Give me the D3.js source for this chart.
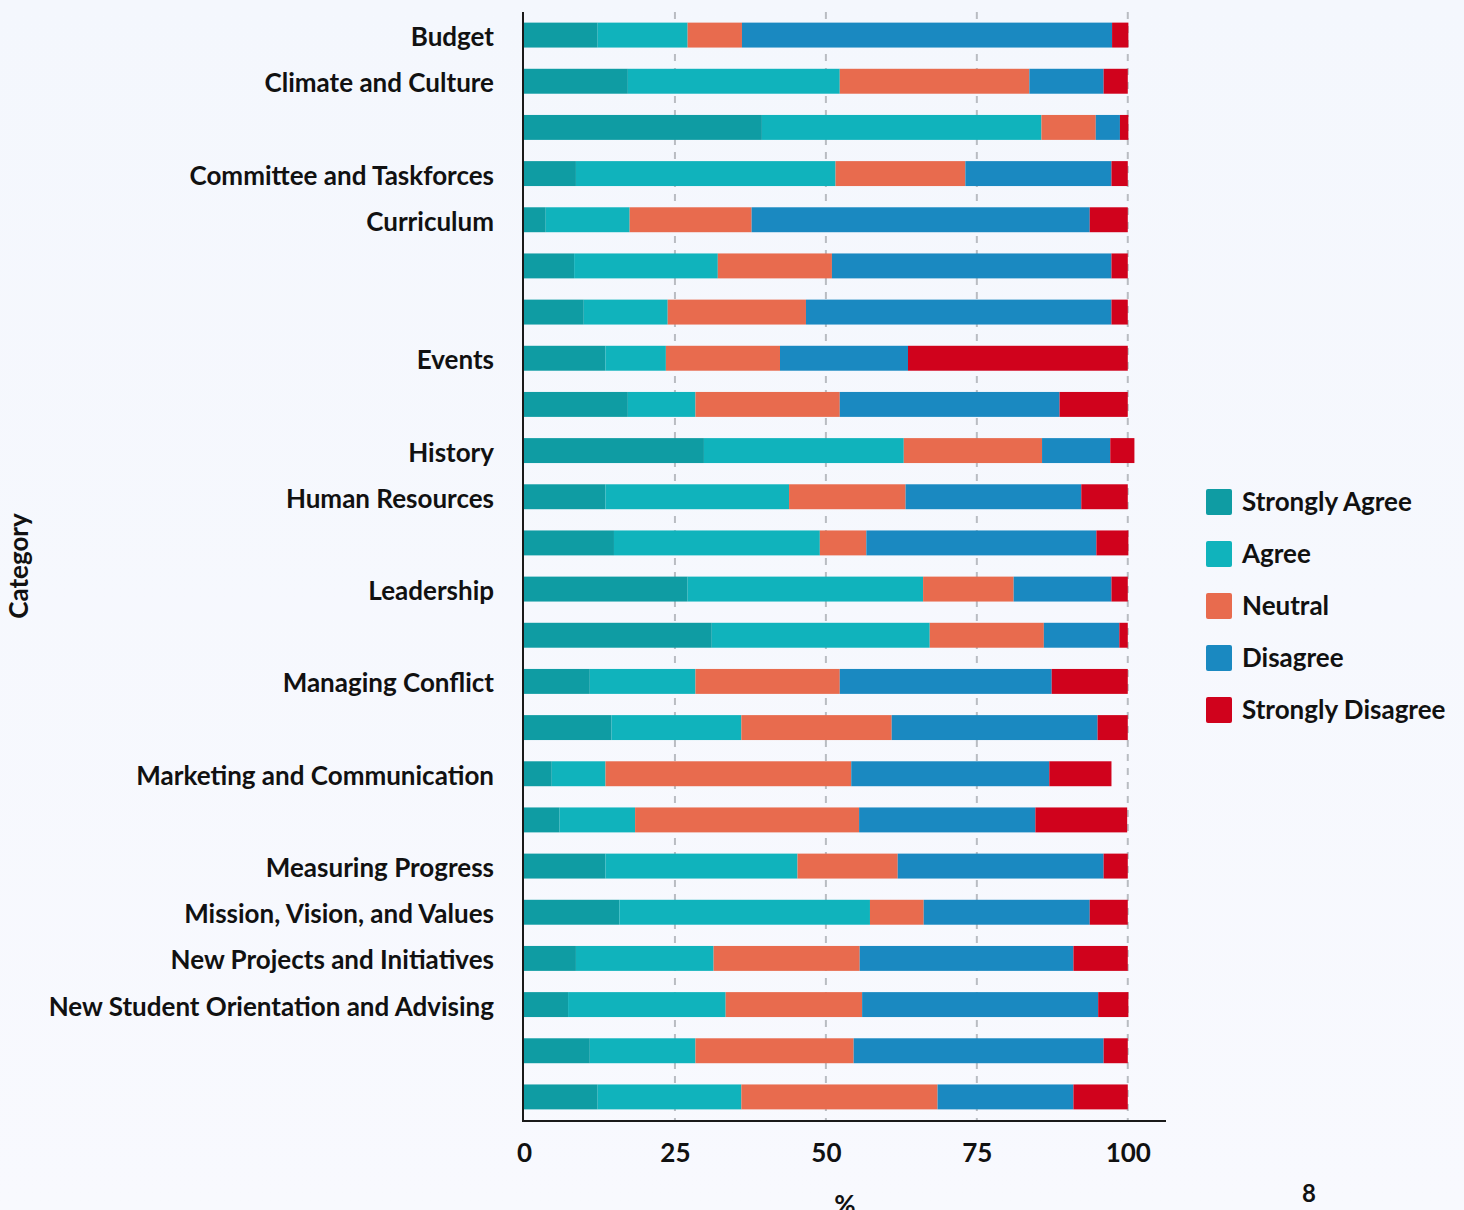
<!DOCTYPE html>
<html>
<head>
<meta charset="utf-8">
<script src="https://cdn.jsdelivr.net/npm/d3@7"></script>
<style>
  html, body { margin: 0; padding: 0; background: #f6f8fe; }
  svg { display: block; }
  text { font-family: Lato, "Open Sans", sans-serif; font-weight: 700; fill: #111; }
</style>
</head>
<body>
<svg id="chart" width="1464" height="1210"></svg>
<script>
// ---- data ----
const categories = [
  "Budget", "Climate and Culture", "", "Committee and Taskforces", "Curriculum", "", "",
  "Events", "", "History", "Human Resources", "", "Leadership", "", "Managing Conflict", "",
  "Marketing and Communication", "", "Measuring Progress", "Mission, Vision, and Values",
  "New Projects and Initiatives", "New Student Orientation and Advising", "", ""
];
const seriesNames = ["Strongly Agree", "Agree", "Neutral", "Disagree", "Strongly Disagree"];
const stronglyAgree    = [12.2, 17.2, 39.4,  8.6,  3.6,  8.3,  9.9, 13.5, 17.2, 29.8, 13.5, 14.9, 27.1, 31.1, 10.9, 14.5,  4.6,  5.9, 13.5, 15.8,  8.6,  7.3, 10.9, 12.2];
const agree            = [14.9, 35.1, 46.3, 43.0, 13.9, 23.8, 13.9, 10.0, 11.2, 33.1, 30.4, 34.1, 39.0, 36.1, 17.5, 21.5,  8.9, 12.5, 31.8, 41.5, 22.8, 26.1, 17.5, 23.8];
const neutral          = [ 9.0, 31.4,  9.0, 21.5, 20.2, 18.9, 22.9, 18.9, 23.9, 22.9, 19.3,  7.7, 15.0, 18.9, 23.9, 24.9, 40.7, 37.1, 16.6,  8.9, 24.2, 22.6, 26.2, 32.5];
const disagree         = [61.3, 12.3,  4.0, 24.2, 56.0, 46.3, 50.6, 21.2, 36.4, 11.3, 29.1, 38.1, 16.2, 12.5, 35.1, 34.1, 32.8, 29.2, 34.1, 27.5, 35.4, 39.1, 41.4, 22.5];
const stronglyDisagree = [ 2.7,  4.0,  1.4,  2.7,  6.3,  2.7,  2.7, 36.4, 11.3,  4.0,  7.7,  5.3,  2.7,  1.4, 12.6,  5.0, 10.3, 15.2,  4.0,  6.3,  9.0,  5.0,  4.0,  9.0];
const xTicks = [0, 25, 50, 75, 100];
const colors = ["#0f9ca3", "#10b3bc", "#e86b4e", "#1a89c1", "#d0021c"];

// ---- build table ----
const seriesValues = [stronglyAgree, agree, neutral, disagree, stronglyDisagree];
const rows = categories.map((c, i) => {
  const r = { idx: i, label: c };
  seriesNames.forEach((s, k) => r[s] = seriesValues[k][i]);
  return r;
});
const stacked = d3.stack().keys(seriesNames)(rows);

const svg = d3.select("#chart");
const defs = svg.append("defs");
const grad = defs.append("linearGradient").attr("id", "bg").attr("x1", 0).attr("y1", 0).attr("x2", 0).attr("y2", 1);
grad.append("stop").attr("offset", "0%").attr("stop-color", "#f4f7fd");
grad.append("stop").attr("offset", "100%").attr("stop-color", "#f8f9fe");
svg.append("rect").attr("width", 1464).attr("height", 1210).attr("fill", "url(#bg)");

const pLeft = 524, pRight = 1164, pTop = 12, pBottom = 1120;
const x = d3.scaleLinear().domain([0, 106]).range([pLeft, pRight]);
const y = d3.scaleBand().domain(d3.range(categories.length)).range([pTop, pBottom]).paddingInner(0.46).paddingOuter(0.23);

// grid
svg.append("g").selectAll("line").data(xTicks.filter(t => t > 0)).join("line")
  .attr("x1", d => x(d)).attr("x2", d => x(d))
  .attr("y1", pTop).attr("y2", pBottom + 1)
  .attr("stroke", "#b9bcc2").attr("stroke-width", 2).attr("stroke-dasharray", "7,7");

// bars
svg.append("g").selectAll("g").data(stacked).join("g")
  .attr("fill", (d, i) => colors[i])
  .selectAll("rect").data(d => d).join("rect")
  .attr("x", d => x(d[0]))
  .attr("width", d => x(d[1]) - x(d[0]))
  .attr("y", d => y(d.data.idx))
  .attr("height", y.bandwidth());

// y axis
const yAxis = d3.axisLeft(y).tickSize(0).tickPadding(29).tickFormat(i => categories[i]);
const gy = svg.append("g").attr("transform", `translate(${pLeft - 1},0)`).call(yAxis);
gy.select(".domain").remove();
gy.selectAll("text").style("font-size", "26px").style("font-family", "Lato, sans-serif").style("font-weight", 700).attr("fill", "#111").attr("dy", "0.42em");
svg.append("line").attr("x1", pLeft - 1).attr("x2", pLeft - 1).attr("y1", pTop).attr("y2", pBottom + 2)
  .attr("stroke", "#1a1a1a").attr("stroke-width", 2);

// x axis
const xAxis = d3.axisBottom(x).tickValues(xTicks).tickSize(0).tickPadding(23);
const gx = svg.append("g").attr("transform", `translate(0,${pBottom + 1})`).call(xAxis);
gx.select(".domain").remove();
gx.selectAll("text").style("font-size", "26px").style("font-family", "Lato, sans-serif").style("font-weight", 700).attr("fill", "#111");
svg.append("line").attr("x1", pLeft - 2).attr("x2", pRight + 2).attr("y1", pBottom + 1).attr("y2", pBottom + 1)
  .attr("stroke", "#1a1a1a").attr("stroke-width", 2);

// axis titles
svg.append("text").attr("transform", "translate(28,566) rotate(-90)").attr("text-anchor", "middle")
  .style("font-size", "26px").text("Category");
svg.append("text").attr("x", 845).attr("y", 1214).attr("text-anchor", "middle")
  .style("font-size", "26px").text("%");
svg.append("text").attr("x", 1309).attr("y", 1202).attr("text-anchor", "middle")
  .style("font-size", "24px").text("8");

// legend
const lg = svg.append("g").attr("transform", "translate(1206,489)");
const li = lg.selectAll("g").data(seriesNames).join("g").attr("transform", (d, i) => `translate(0,${i * 52})`);
li.append("rect").attr("width", 26).attr("height", 26).attr("rx", 2).attr("fill", (d, i) => colors[i]);
li.append("text").attr("x", 36).attr("y", 13).attr("dy", "0.36em").style("font-size", "26px").text(d => d);
</script>
</body>
</html>
